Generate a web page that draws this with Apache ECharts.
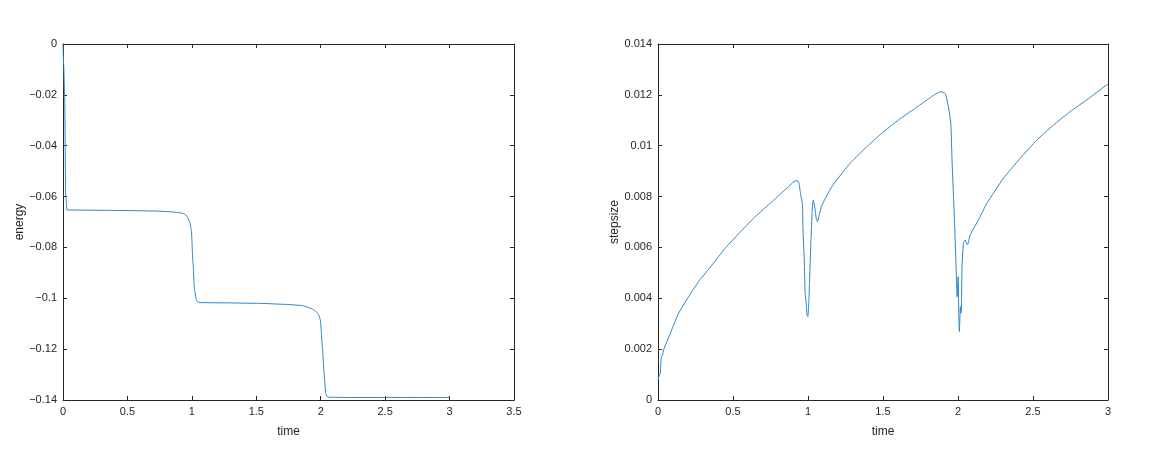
<!DOCTYPE html>
<html>
<head>
<meta charset="utf-8">
<script src="https://cdn.jsdelivr.net/npm/echarts@6/dist/echarts.min.js"></script>
<style>
html,body{margin:0;padding:0;background:#fff;}
#chart{width:1162px;height:456px;}
</style>
</head>
<body>
<div id="chart"></div>
<script>
// ---- data ----
var energyTime = [0, 0.002, 0.005, 0.013, 0.021, 0.031, 0.09, 0.3, 0.5, 0.724, 0.815, 0.88, 0.931, 0.955, 0.97, 0.985, 0.996, 1.009, 1.02, 1.035, 1.045, 1.055, 1.268, 1.526, 1.734, 1.85, 1.889, 1.935, 1.966, 1.985, 1.997, 2.013, 2.026, 2.039, 2.05, 2.057, 2.2, 2.5, 3.0];
var energyValue = [0, -0.004, -0.008, -0.0207, -0.06, -0.0653, -0.0653, -0.0654, -0.0655, -0.0657, -0.0659, -0.0662, -0.0666, -0.0673, -0.0685, -0.0703, -0.0731, -0.0862, -0.0967, -0.1007, -0.1014, -0.1017, -0.1018, -0.102, -0.1024, -0.1028, -0.1033, -0.1042, -0.1053, -0.1066, -0.1085, -0.119, -0.1295, -0.1374, -0.1386, -0.1389, -0.139, -0.139, -0.139];

var stepTime = [0, 0.009, 0.015, 0.022, 0.031, 0.037, 0.082, 0.137, 0.204, 0.27, 0.36, 0.448, 0.56, 0.648, 0.76, 0.87, 0.915, 0.937, 0.953, 0.963, 0.966, 0.975, 0.981, 0.988, 0.993, 0.999, 1.006, 1.01, 1.019, 1.028, 1.035, 1.043, 1.055, 1.063, 1.077, 1.093, 1.159, 1.27, 1.381, 1.492, 1.603, 1.714, 1.825, 1.881, 1.914, 1.936, 1.952, 1.961, 1.97, 1.979, 1.987, 1.994, 2.001, 2.005, 2.009, 2.016, 2.021, 2.027, 2.036, 2.047, 2.063, 2.081, 2.136, 2.192, 2.303, 2.414, 2.525, 2.636, 2.747, 2.858, 2.991, 3.0];
var stepValue = [0.00079, 0.00098, 0.00105, 0.0017, 0.00177, 0.00197, 0.00262, 0.00341, 0.00406, 0.00465, 0.00531, 0.00597, 0.00668, 0.00721, 0.0078, 0.00839, 0.00862, 0.00859, 0.008, 0.00773, 0.00682, 0.0055, 0.0042, 0.0038, 0.00334, 0.00328, 0.00393, 0.00459, 0.00616, 0.00747, 0.00786, 0.00767, 0.00714, 0.00701, 0.00734, 0.00767, 0.00839, 0.00924, 0.0099, 0.01049, 0.01101, 0.01147, 0.01193, 0.01212, 0.01206, 0.01153, 0.01088, 0.0093, 0.008, 0.00668, 0.00524, 0.00406, 0.00485, 0.00341, 0.00269, 0.00367, 0.00341, 0.00524, 0.00616, 0.00629, 0.0061, 0.00649, 0.00708, 0.00773, 0.00872, 0.0095, 0.01022, 0.01081, 0.01134, 0.0118, 0.01239, 0.01242];

var leftXAxis = {min: 0, max: 3.5, interval: 0.5, name: 'time'};
var leftYAxis = {min: -0.14, max: 0, interval: 0.02, name: 'energy'};
var rightXAxis = {min: 0, max: 3, interval: 0.5, name: 'time'};
var rightYAxis = {min: 0, max: 0.014, interval: 0.002, name: 'stepsize'};

function zip(a, b) { var r = []; for (var i = 0; i < a.length; i++) r.push([a[i], b[i]]); return r; }

var AX = '#262626';
var FONT = 'Liberation Sans, Arial, sans-serif';
var LINE = '#2c86c9';

function fmt(v) {
  var s = String(+v.toFixed(6));
  return s.replace('-', '\u2212');
}

function mainX(def, gi) {
  return {
    type: 'value', gridIndex: gi, position: 'bottom',
    min: def.min, max: def.max, interval: def.interval,
    name: def.name, nameLocation: 'middle', nameGap: 26,
    nameTextStyle: {color: AX, fontSize: 12, fontFamily: FONT},
    axisLine: {show: true, onZero: false, lineStyle: {color: AX, width: 1}},
    axisTick: {show: true, inside: true, length: 4, lineStyle: {color: AX}},
    axisLabel: {show: true, color: AX, fontSize: 11, fontFamily: FONT, margin: 6, formatter: fmt},
    splitLine: {show: false}
  };
}
function mirrorX(def, gi) {
  return {
    type: 'value', gridIndex: gi, position: 'top',
    min: def.min, max: def.max, interval: def.interval,
    axisLine: {show: true, onZero: false, lineStyle: {color: AX, width: 1}},
    axisTick: {show: true, inside: true, length: 4, lineStyle: {color: AX}},
    axisLabel: {show: false}, splitLine: {show: false}
  };
}
function mainY(def, gi, gap) {
  return {
    type: 'value', gridIndex: gi, position: 'left',
    min: def.min, max: def.max, interval: def.interval,
    name: def.name, nameLocation: 'middle', nameGap: gap, nameRotate: 90,
    nameTextStyle: {color: AX, fontSize: 12, fontFamily: FONT},
    axisLine: {show: true, onZero: false, lineStyle: {color: AX, width: 1}},
    axisTick: {show: true, inside: true, length: 4, lineStyle: {color: AX}},
    axisLabel: {show: true, color: AX, fontSize: 11, fontFamily: FONT, margin: 6, formatter: fmt},
    splitLine: {show: false}
  };
}
function mirrorY(def, gi) {
  return {
    type: 'value', gridIndex: gi, position: 'right',
    min: def.min, max: def.max, interval: def.interval,
    axisLine: {show: true, onZero: false, lineStyle: {color: AX, width: 1}},
    axisTick: {show: true, inside: true, length: 4, lineStyle: {color: AX}},
    axisLabel: {show: false}, splitLine: {show: false}
  };
}

var chart = echarts.init(document.getElementById('chart'), null, {renderer: 'canvas'});
chart.setOption({
  backgroundColor: '#ffffff',
  animation: false,
  grid: [
    {left: 63, top: 44, width: 451, height: 356, containLabel: false},
    {left: 658, top: 44, width: 450, height: 356, containLabel: false}
  ],
  xAxis: [mainX(leftXAxis, 0), mirrorX(leftXAxis, 0), mainX(rightXAxis, 1), mirrorX(rightXAxis, 1)],
  yAxis: [mainY(leftYAxis, 0, 35), mirrorY(leftYAxis, 0), mainY(rightYAxis, 1, 37), mirrorY(rightYAxis, 1)],
  series: [
    {type: 'line', xAxisIndex: 0, yAxisIndex: 0, data: zip(energyTime, energyValue),
     showSymbol: false, symbol: 'none', lineStyle: {color: LINE, width: 1}, smooth: 0.2, smoothMonotone: 'x'},
    {type: 'line', xAxisIndex: 2, yAxisIndex: 2, data: zip(stepTime, stepValue),
     showSymbol: false, symbol: 'none', lineStyle: {color: LINE, width: 1}, smooth: 0.15}
  ]
});
</script>
</body>
</html>
